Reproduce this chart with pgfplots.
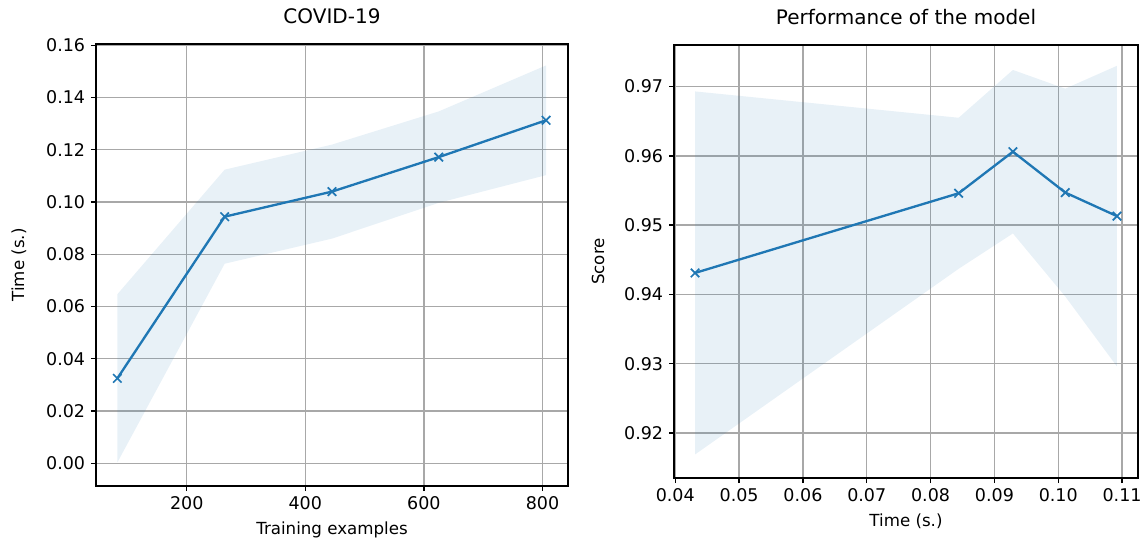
\documentclass[border=0pt]{standalone}
\usepackage{pgfplots}
\pgfplotsset{compat=1.18}
\usepackage{fontspec}
\setmainfont{DejaVu Sans}
\definecolor{c0}{HTML}{1F77B4}
\definecolor{gridc}{HTML}{A8A8A8}
\pgfplotsset{
  mystyle/.style={
    scale only axis,
    anchor=south west,
    axis line style={black, line width=1pt},
    grid=major,
    major grid style={gridc, line width=0.8pt},
    tick align=outside,
    xtick pos=bottom, ytick pos=left,
    major tick length=3pt,
    tick style={black, line width=0.8pt},
    /pgf/number format/assume math mode=true,
    scaled ticks=false,
    ticklabel style={font=\fontsize{10.5}{12}\selectfont},
    label style={font=\fontsize{10}{12}\selectfont},
    title style={font=\fontsize{12}{14}\selectfont, at={(0.5,1)}, anchor=base, yshift=6.5pt},
    every axis y label/.append style={yshift=5pt},
  },
  twodec/.style={/pgf/number format/.cd, fixed, fixed zerofill, precision=2},
}
\begin{document}
\begin{tikzpicture}
\useasboundingbox (0,0) rectangle (685.2pt,325.2pt);
% Left panel
\begin{axis}[mystyle, at={(57.6pt,33.6pt)}, width=283.2pt, height=265.2pt,
  xmin=47, xmax=843, ymin=-0.0087, ymax=0.1605,
  xtick={200,400,600,800},
  ytick={0,0.02,0.04,0.06,0.08,0.10,0.12,0.14,0.16},
  yticklabel style={twodec},
  title={COVID-19}, xlabel={Training examples}, ylabel={Time (s.)}]
\addplot[draw=none, fill=c0, fill opacity=0.1, forget plot] coordinates {
  (83,0.0647) (264,0.1124) (445,0.1220) (625,0.1347) (806,0.1523)
  (806,0.1103) (625,0.0997) (445,0.0860) (264,0.0764) (83,0.0003)} -- cycle;
\addplot[c0, line width=1.4pt, mark=x, mark size=3.6pt, mark options={line width=1pt}] coordinates {
  (83,0.0325) (264,0.0944) (445,0.1040) (625,0.1172) (806,0.1313)};
\end{axis}
% Right panel
\begin{axis}[mystyle, at={(404.4pt,38.4pt)}, width=278.4pt, height=259.8pt,
  xmin=0.0398, xmax=0.1125, ymin=0.9135, ymax=0.9760,
  xtick={0.04,0.05,0.06,0.07,0.08,0.09,0.10,0.11},
  ytick={0.92,0.93,0.94,0.95,0.96,0.97},
  xticklabel style={twodec}, yticklabel style={twodec},
  title={Performance of the model}, xlabel={Time (s.)}, ylabel={Score}]
\addplot[draw=none, fill=c0, fill opacity=0.1, forget plot] coordinates {
  (0.0431,0.9693) (0.0844,0.9655) (0.0929,0.9724) (0.1011,0.9697) (0.1092,0.9730)
  (0.1092,0.9296) (0.1011,0.9397) (0.0929,0.9488) (0.0844,0.9437) (0.0431,0.9169)} -- cycle;
\addplot[c0, line width=1.4pt, mark=x, mark size=3.6pt, mark options={line width=1pt}] coordinates {
  (0.0431,0.9431) (0.0844,0.9546) (0.0929,0.9606) (0.1011,0.9547) (0.1092,0.9513)};
\end{axis}
\end{tikzpicture}
\end{document}
